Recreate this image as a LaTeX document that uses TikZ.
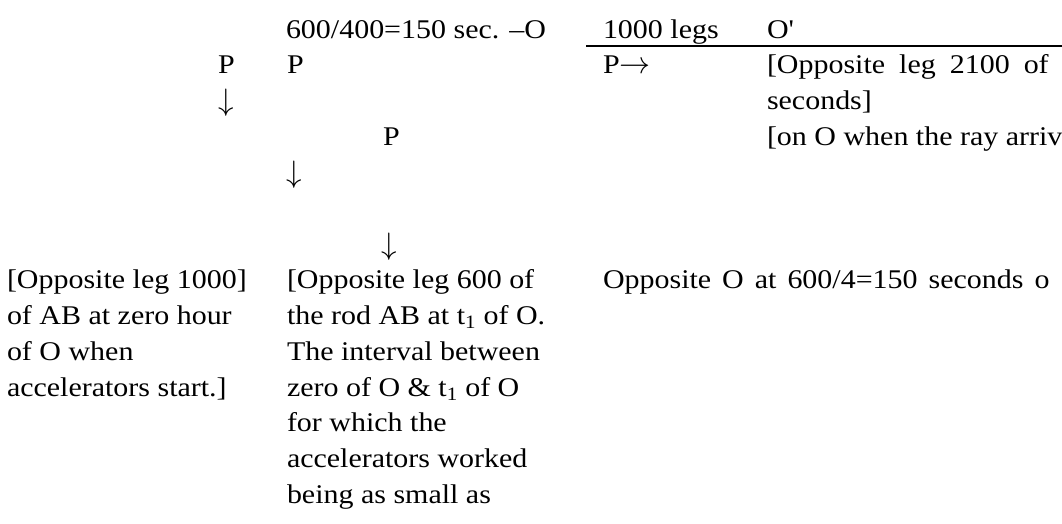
\RequirePackage{fix-cm}
\documentclass[tikz,border=0pt]{standalone}
\usepackage{fontspec}
\setmainfont{Liberation Serif}[FakeStretch=1.11]
\newcommand{\bigarrowsize}{\fontsize{31}{36}\selectfont}
\begin{document}
\begin{tikzpicture}[x=1pt,y=-1pt,
  txt/.style={inner sep=0pt, outer sep=0pt, anchor=base west, font=\fontsize{27}{32}\selectfont},
  arr/.style={txt, font=\bigarrowsize},
  wide/.style={txt, execute at begin node={\spaceskip=#1pt plus 1pt\relax}},
  rule/.style={line width=1.6pt, black}]
\useasboundingbox (0,0) rectangle (1062,523);
\clip (0,0) rectangle (1062,523);
% row 1
\node[txt] (r1a) at (286,38) {600/400=150 sec. –O};
\node[txt] (r1b) at (603,38) {1000 legs};
\node[txt] (r1c) at (767,38) {O\textquotesingle};
\coordinate (ruleL) at (586,46);
\coordinate (ruleR) at (1062,46);
\draw[rule] (ruleL) -- (ruleR);
% row 2
\node[txt] (r2a) at (218,73.8) {P};
\node[txt] (r2b) at (287,73.8) {P};
\node[txt] (r2c) at (603,73.8) {P{\bigarrowsize$\rightarrow$}};
\node[wide=14] (r2d) at (767,73.8) {[Opposite leg 2100 of};
% row 3
\node[arr] (r3a) at (218,110) {$\downarrow$};
\node[txt] (r3b) at (767,109.6) {seconds]};
% row 4
\node[txt] (r4a) at (383,145.4) {P};
\node[txt] (r4b) at (767,145.4) {[on O when the ray arriv};
% row 5
\node[arr] (r5a) at (286,182) {$\downarrow$};
% row 7
\node[arr] (r7a) at (381,254) {$\downarrow$};
% left block
\node[txt] (L1) at (7,288.6) {[Opposite leg 1000]};
\node[txt] (L2) at (7,324.4) {of AB at zero hour};
\node[txt] (L3) at (7,360.2) {of O when};
\node[txt] (L4) at (7,396) {accelerators start.]};
% middle block
\node[txt] (M1) at (287,288.6) {[Opposite leg 600 of};
\node[txt] (M2) at (287,324.4) {the rod AB at t\textsubscript{1} of O.};
\node[txt] (M3) at (287,360.2) {The interval between};
\node[txt] (M4) at (287,396) {zero of O \& t\textsubscript{1} of O};
\node[txt] (M5) at (287,431.8) {for which the};
\node[txt] (M6) at (287,467.6) {accelerators worked};
\node[txt] (M7) at (287,503.4) {being as small as};
% right
\node[wide=11] (R1) at (603,288.6) {Opposite O at 600/4=150 seconds o};
\end{tikzpicture}
\end{document}
